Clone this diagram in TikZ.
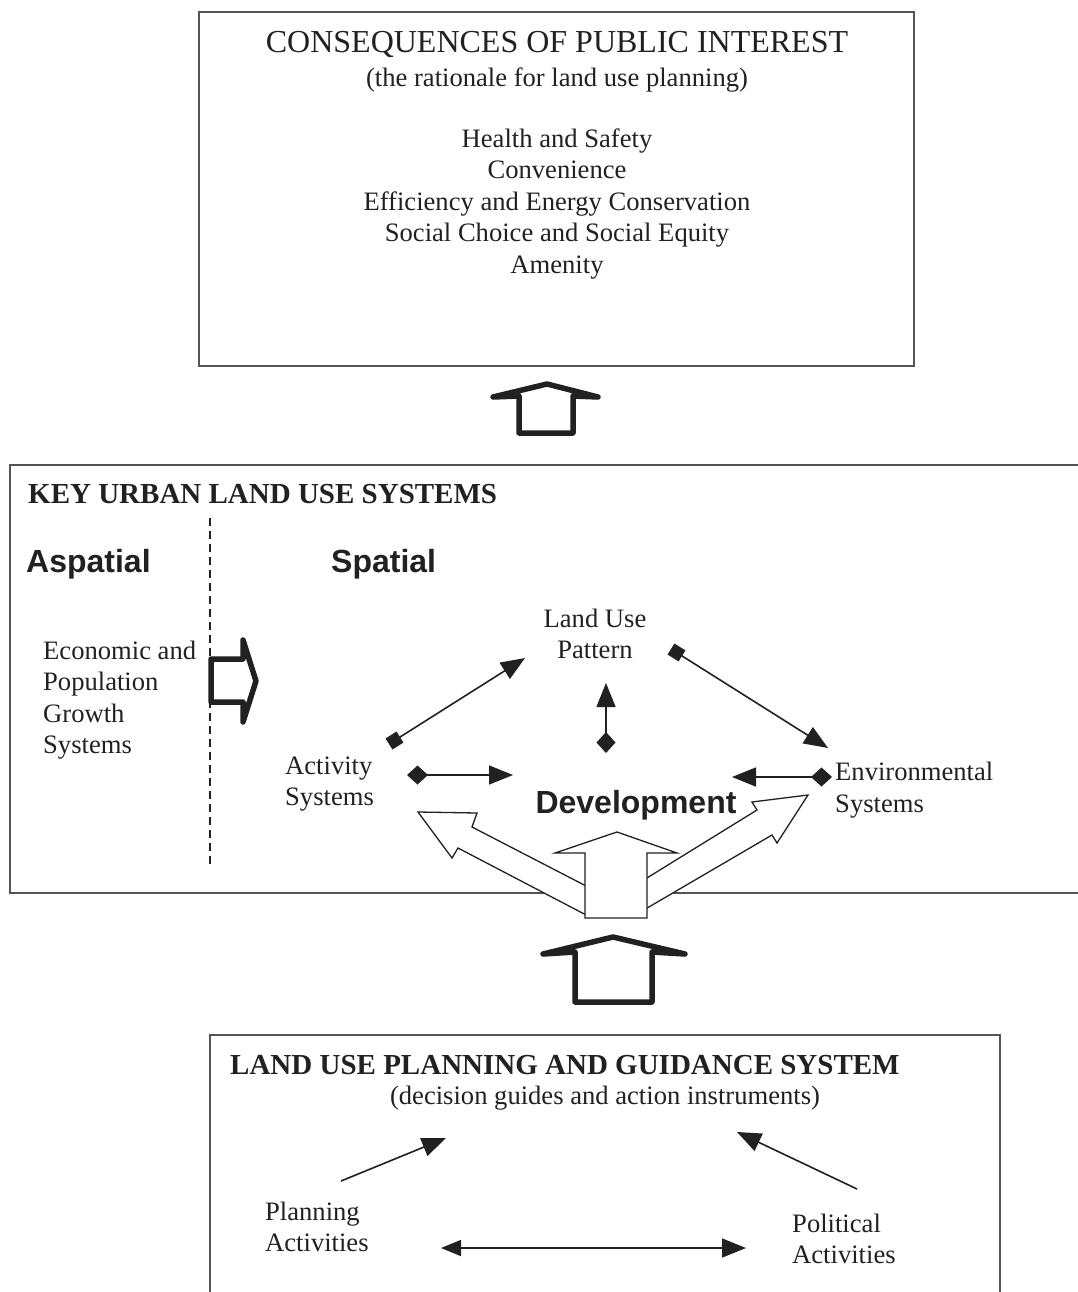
\documentclass[tikz,border=0pt]{standalone}
\usepackage{fontspec}
\setmainfont{Liberation Serif}
\setsansfont{Liberation Sans}
\usetikzlibrary{arrows.meta}

\definecolor{boxline}{rgb}{0.33,0.33,0.33}
\definecolor{ink}{rgb}{0.13,0.13,0.13}

\tikzset{
  body/.style={font=\fontsize{26.6}{31.5}\selectfont, text=ink, inner sep=0pt},
  boldtitle/.style={font=\fontsize{29}{34}\selectfont\bfseries, text=ink, inner sep=0pt},
  sanshead/.style={font=\fontsize{32}{38}\selectfont\sffamily\bfseries, text=ink, inner sep=0pt},
  link/.style={line width=1.6pt, draw=ink},
  sqlink/.style={link, {Square[length=13pt,width=13pt]}-{Triangle[length=24pt,width=19pt]}},
  dmlink/.style={link, {Diamond[length=21pt,width=19pt]}-{Triangle[length=24pt,width=19pt]}},
  plainlink/.style={link, -{Triangle[length=24pt,width=19pt]}},
  hollow/.style={line width=5.5pt, line join=round, draw=ink, fill=white},
  thinhollow/.style={line width=1.3pt, draw=ink, fill=white},
}

\begin{document}
\begin{tikzpicture}[x=1pt,y=-1pt]
    \useasboundingbox (0,0) rectangle (1078,1292);
    \fill[white] (0,0) rectangle (1078,1292);

    % consequences box
    \draw[boxline, line width=1.6pt] (199,12) rectangle (914,366);
    \node[body, font=\fontsize{32}{36}\selectfont] (ctitle) at (557,45) {CONSEQUENCES OF PUBLIC INTEREST};
    \node[body] (crationale) at (557,80) {(the rationale for land use planning)};
    \node[body, align=center] (clist) at (557,204) {Health and Safety\\Convenience\\Efficiency and Energy Conservation\\Social Choice and Social Equity\\Amenity};

    \draw[hollow] (519,433) -- (519,396) -- (493,397) -- (547,384) -- (598,397) -- (573,396) -- (573,433) -- cycle;

    % key urban land use systems
    \draw[boxline, line width=2pt] (1080,465) -- (10,465) -- (10,893) -- (1080,893);
    \node[boldtitle, anchor=west] (ktitle) at (28,494) {KEY URBAN LAND USE SYSTEMS};
    \draw[ink, line width=1.4pt, dash pattern=on 8pt off 5pt] (210,518) -- (210,868);
    \node[sanshead, anchor=west] (aspatial) at (26,564) {Aspatial};
    \node[sanshead, anchor=west] (spatial) at (331,564) {Spatial};
    \node[body, align=left, anchor=west] (econ) at (43,700) {Economic and\\Population\\Growth\\Systems};
    \draw[hollow] (243,702) -- (211,702) -- (211,659) -- (243,659) -- (243,640) -- (256,681) -- (243,722) -- cycle;

    \node[body, align=center] (landuse) at (595,634) {Land Use\\Pattern};
    \node[body, align=left, anchor=west] (activity) at (285,784) {Activity\\Systems};
    \node[body, align=left, anchor=west] (environ) at (835,790) {Environmental\\Systems};

    \coordinate (actsq) at (389,744);
    \coordinate (luphead) at (525,658);
    \coordinate (lupsq) at (671,649);
    \coordinate (envhead) at (828,748);
    \coordinate (devdm) at (606,753);
    \coordinate (luphead2) at (606,683);
    \coordinate (actdm) at (407,775);
    \coordinate (devhead1) at (513,775);
    \coordinate (envdm) at (832,777);
    \coordinate (devhead2) at (732,777);
    \draw[sqlink] (actsq) -- (luphead);
    \draw[sqlink] (lupsq) -- (envhead);
    \draw[dmlink] (devdm) -- (luphead2);
    \draw[dmlink] (actdm) -- (devhead1);
    \draw[dmlink] (envdm) -- (devhead2);

    % development arrows
    \draw[thinhollow] (590,888) -- (472,827) -- (477,813) -- (418,812) -- (452,858) -- (458,848) -- (590,917) -- cycle;
    \draw[thinhollow] (642,881) -- (757,810) -- (752,802) -- (808,795) -- (777,843) -- (772,835) -- (642,911) -- cycle;
    \draw[thinhollow] (585,918) -- (585,853) -- (555,853) -- (617,832) -- (677,853) -- (647,853) -- (647,918) -- cycle;
    \node[sanshead] (devel) at (636,805) {Development};

    \draw[hollow] (575,1002) -- (575,952) -- (543,954) -- (613,937) -- (685,954) -- (652,952) -- (652,1002) -- cycle;

    % planning and guidance box
    \draw[boxline, line width=1.6pt] (210,1295) -- (210,1035) -- (1000,1035) -- (1000,1295);
    \node[boldtitle, anchor=west] (ltitle) at (230,1065) {LAND USE PLANNING AND GUIDANCE SYSTEM};
    \node[body] (decision) at (605,1098) {(decision guides and action instruments)};
    \node[body, align=left, anchor=west] (planning) at (265,1227) {Planning\\Activities};
    \node[body, align=left, anchor=west] (political) at (792,1239) {Political\\Activities};

    \coordinate (plantail) at (341,1181);
    \coordinate (planhead) at (446,1138);
    \coordinate (poltail) at (857,1189);
    \coordinate (polhead) at (737,1132);
    \coordinate (midleft) at (441,1248);
    \coordinate (midright) at (746,1248);
    \draw[plainlink] (plantail) -- (planhead);
    \draw[plainlink] (poltail) -- (polhead);
    \draw[link, {Triangle[length=20pt,width=16pt]}-{Triangle[length=24pt,width=19pt]}] (midleft) -- (midright);
\end{tikzpicture}
\end{document}
